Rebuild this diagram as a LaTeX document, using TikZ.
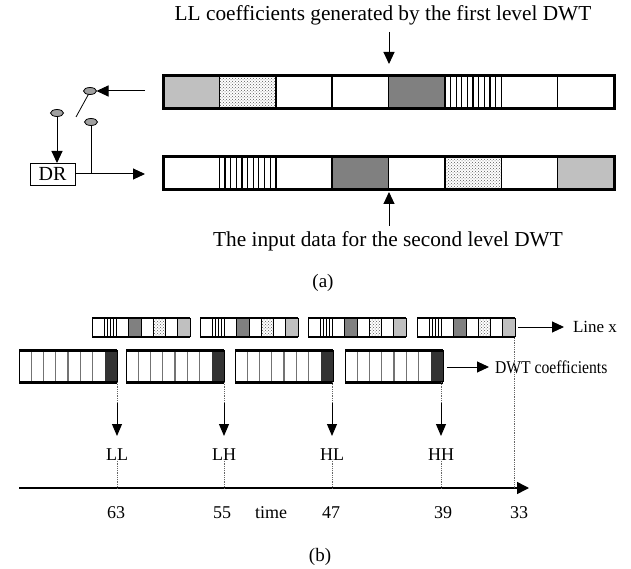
\documentclass[tikz,border=0pt]{standalone}
\usepackage{fontspec}
\setmainfont{Liberation Serif}
\usetikzlibrary{arrows.meta,patterns,shapes.geometric}
\definecolor{lgray}{HTML}{C0C0C0}
\definecolor{mgray}{HTML}{808080}
\definecolor{dgray}{HTML}{333333}
\definecolor{swgray}{HTML}{A0A0A0}
\begin{document}
\begin{tikzpicture}[x=1pt,y=-1pt,
  every node/.style={inner sep=0pt,outer sep=0pt},
  ta/.style={font=\fontsize{21.3}{25}\selectfont},
  tb/.style={font=\fontsize{18}{21}\selectfont},
  tc/.style={font=\fontsize{19}{23}\selectfont},
  arr/.style={line width=1pt,-{Triangle[length=12pt,width=11pt]}},
  arrs/.style={line width=1pt,-{Triangle[length=12pt,width=10pt]}},
  sw/.style={ellipse,draw,line width=0.8pt,fill=swgray,minimum width=13pt,minimum height=7pt,inner sep=0pt},
  dotl/.style={densely dotted,line width=0.8pt,black!60},
  dots/.style={pattern=crosshatch dots,pattern color=black!65},
]
\useasboundingbox (0,0) rectangle (631,569);
\fill[white] (0,0) rectangle (631,569);

% ---------------- (a) ----------------
\node[ta] (t1) at (383,15) {LL coefficients generated by the first level DWT};
\coordinate (a1s) at (389,32);
\coordinate (a1e) at (389,64);
\draw[arr] (a1s) -- (a1e);

% top bar
\def\cw{56.375}
\fill[lgray] (163,76) rectangle ++(\cw,33);
\fill[dots] (163+\cw,76) rectangle ++(\cw,33);
\fill[mgray] (163+4*\cw,76) rectangle ++(\cw,33);
\foreach \k in {1,...,9} \draw[line width=1.2pt] (163+5*\cw+\k*\cw/10,76) -- ++(0,33);
\foreach \k in {1,...,7} \draw[line width=1.5pt] (163+\k*\cw,76) -- ++(0,33);
\draw[line width=3pt] (163,76) rectangle (614,109);

% bottom bar
\foreach \k in {1,...,9} \draw[line width=1.2pt] (163+\cw+\k*\cw/10,157) -- ++(0,33);
\fill[mgray] (163+3*\cw,157) rectangle ++(\cw,33);
\fill[dots] (163+5*\cw,157) rectangle ++(\cw,33);
\fill[lgray] (163+7*\cw,157) rectangle ++(\cw,33);
\foreach \k in {1,...,7} \draw[line width=1.5pt] (163+\k*\cw,157) -- ++(0,33);
\draw[line width=3pt] (163,157) rectangle (614,190);

\node[ta] (t2) at (388,241) {The input data for the second level DWT};
\coordinate (a2s) at (389,226);
\coordinate (a2e) at (389,192);
\draw[arr] (a2s) -- (a2e);
\node[tc] (la) at (323,283) {(a)};

% switch
\node[sw] (e1) at (90,91) {};
\node[sw] (e2) at (57,113) {};
\node[sw] (e3) at (91,122) {};
\coordinate (inA) at (145,91);
\draw[arr] (inA) -- (e1.east);
\coordinate (blade) at (76,117);
\draw[line width=0.8pt] (e1.245) -- (blade);
\node[draw,line width=0.8pt,font=\fontsize{20}{24}\selectfont,minimum width=45pt,minimum height=22pt] (dr) at (52.5,174) {DR};
\draw[arr] (e2.south) -- (e2.south |- dr.north);
\coordinate (outB) at (145,174);
\draw[arr] (dr.east) -- (outB);
\draw[line width=0.8pt] (e3.south) -- (e3.south |- dr.east);

% ---------------- (b) ----------------
\def\bw{12.25}
% row 1 (Line x)
\foreach \bx in {92,200,308,417}{
  \foreach \k in {1,2,3} \draw[line width=0.9pt] (\bx+\bw+\k*\bw/4,318) -- ++(0,19);
  \fill[mgray] (\bx+3*\bw,318) rectangle ++(\bw,19);
  \fill[dots] (\bx+5*\bw,318) rectangle ++(\bw,19);
  \fill[lgray] (\bx+7*\bw,318) rectangle ++(\bw,19);
  \foreach \k in {1,...,7} \draw[line width=0.9pt] (\bx+\k*\bw,318) -- ++(0,19);
  \draw[line width=1pt] (\bx,318) -- ++(0,19) (\bx+8*\bw,318) -- ++(0,19);
  \draw[line width=2.5pt] (\bx,318) -- ++(8*\bw,0) (\bx,337) -- ++(8*\bw,0);
}
% row 2 (DWT coefficients)
\foreach \bx in {19,126,235,345}{
  \fill[dgray] (\bx+7*\bw,350) rectangle ++(\bw,32);
  \foreach \k in {1,...,6} \draw[line width=1.2pt,black!55] (\bx+\k*\bw,350) -- ++(0,32);
  \draw[line width=1pt] (\bx,350) -- ++(0,32) (\bx+8*\bw,350) -- ++(0,32);
  \draw[line width=3pt] (\bx,350) -- ++(8*\bw,0) (\bx,382) -- ++(8*\bw,0);
}

\coordinate (lx1) at (518,327);
\coordinate (lx2) at (564,327);
\draw[arr] (lx1) -- (lx2);
\node[font=\fontsize{17}{20}\selectfont,anchor=west] (lxt) at (573,327) {Line x};
\coordinate (dw1) at (447,367);
\coordinate (dw2) at (489,367);
\draw[arr] (dw1) -- (dw2);
\node[tb,anchor=west] (dwt) at (495,367) {\scalebox{0.87}[1]{DWT coefficients}};

% axis
\coordinate (ax0) at (19,488);
\coordinate (ax1) at (529,488);
\draw[line width=1.5pt,-{Triangle[length=12pt,width=12pt]}] (ax0) -- (ax1);

% outputs
\foreach \x/\lab/\nm in {117/LL/ll,224/LH/lh,332/HL/hl,441/HH/hh}{
  \coordinate (\nm top) at (\x,382);
  \coordinate (\nm mid) at (\x,403);
  \coordinate (\nm tip) at (\x,436);
  \coordinate (\nm ax) at (\x,488);
  \draw[dotl] (\nm top) -- (\nm mid);
  \draw[arrs] (\nm mid) -- (\nm tip);
  \node[tb] (\nm) at (\x,455) {\lab};
  \draw[dotl] (\nm.south) -- (\nm ax);
}
\coordinate (r1end) at (514,338);
\coordinate (r1ax) at (514,488);
\draw[dotl] (r1end) -- (r1ax);

\node[tb] (n63) at (116,513) {63};
\node[tb] (n55) at (222,513) {55};
\node[tb] (ntime) at (271,513) {time};
\node[tb] (n47) at (331,513) {47};
\node[tb] (n39) at (443,513) {39};
\node[tb] (n33) at (519,513) {33};
\node[tc] (lb) at (320,557) {(b)};
\end{tikzpicture}
\end{document}
